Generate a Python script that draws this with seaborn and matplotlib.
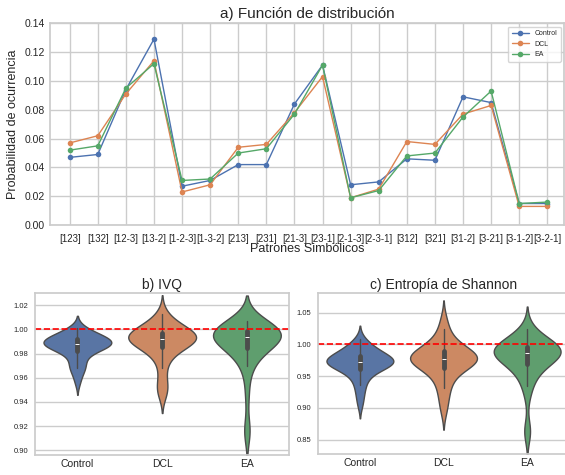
import numpy as np
import pandas as pd
import matplotlib
matplotlib.use("Agg")
import matplotlib.pyplot as plt
import seaborn as sns

# ---- data ----
patrones = ["[123]", "[132]", "[12-3]", "[13-2]", "[1-2-3]", "[1-3-2]", "[213]", "[231]",
            "[21-3]", "[23-1]", "[2-1-3]", "[2-3-1]", "[312]", "[321]", "[31-2]", "[3-21]",
            "[3-1-2]", "[3-2-1]"]
control = [0.047, 0.049, 0.094, 0.129, 0.027, 0.031, 0.042, 0.042, 0.084, 0.111,
           0.028, 0.030, 0.046, 0.045, 0.089, 0.085, 0.015, 0.015]
dcl = [0.057, 0.062, 0.091, 0.114, 0.023, 0.028, 0.054, 0.056, 0.078, 0.103,
       0.019, 0.025, 0.058, 0.056, 0.077, 0.083, 0.013, 0.013]
ea = [0.052, 0.055, 0.095, 0.112, 0.031, 0.032, 0.050, 0.053, 0.077, 0.111,
      0.019, 0.024, 0.048, 0.050, 0.075, 0.093, 0.015, 0.016]
grupos = ["Control", "DCL", "EA"]

ivq_control = [0.956, 0.962, 0.966, 0.968, 0.970, 0.972, 0.975, 0.978, 0.980, 0.982,
               0.983, 0.984, 0.984, 0.985, 0.986, 0.986, 0.987, 0.987, 0.988, 0.988,
               0.988, 0.989, 0.989, 0.990, 0.990, 0.991, 0.991, 0.992, 0.992, 0.993,
               0.993, 0.994, 0.995, 0.996, 0.997, 0.998, 1.000, 1.001]
ivq_dcl = [0.946, 0.950, 0.953, 0.960, 0.968, 0.974, 0.978, 0.981, 0.983, 0.985,
           0.986, 0.987, 0.988, 0.989, 0.990, 0.990, 0.991, 0.992, 0.992, 0.993,
           0.993, 0.994, 0.994, 0.995, 0.995, 0.996, 0.996, 0.997, 0.998, 0.999,
           1.000, 1.001, 1.002, 1.004, 1.006, 1.009, 1.013]
ivq_ea = [0.914, 0.918, 0.945, 0.962, 0.970, 0.975, 0.978, 0.981, 0.983, 0.985,
          0.987, 0.988, 0.989, 0.990, 0.991, 0.992, 0.993, 0.994, 0.994, 0.995,
          0.995, 0.996, 0.996, 0.997, 0.997, 0.998, 0.998, 0.999, 1.000, 1.000,
          1.001, 1.002, 1.003, 1.004, 1.005, 1.007]

ent_control = [0.905, 0.918, 0.928, 0.936, 0.943, 0.949, 0.953, 0.957, 0.960, 0.962,
               0.964, 0.966, 0.967, 0.968, 0.969, 0.970, 0.971, 0.972, 0.972, 0.973,
               0.974, 0.975, 0.976, 0.977, 0.978, 0.979, 0.980, 0.982, 0.984, 0.986,
               0.988, 0.990, 0.992, 0.995, 0.998, 1.002, 1.008]
ent_dcl = [0.895, 0.910, 0.922, 0.932, 0.940, 0.947, 0.953, 0.958, 0.962, 0.965,
           0.967, 0.969, 0.971, 0.973, 0.974, 0.975, 0.976, 0.977, 0.978, 0.979,
           0.980, 0.981, 0.982, 0.984, 0.986, 0.988, 0.990, 0.992, 0.995, 0.998,
           1.002, 1.008, 1.015, 1.025, 1.040]
ent_ea = [0.860, 0.866, 0.920, 0.935, 0.945, 0.952, 0.958, 0.963, 0.967, 0.970,
          0.973, 0.976, 0.978, 0.980, 0.982, 0.984, 0.985, 0.986, 0.987, 0.988,
          0.989, 0.990, 0.991, 0.992, 0.993, 0.994, 0.995, 0.996, 0.998, 1.000,
          1.002, 1.005, 1.008, 1.012, 1.018, 1.025]

# ---- style ----
sns.set_theme(style="whitegrid")
plt.rcParams["font.family"] = ["Liberation Sans", "DejaVu Sans"]
palette = sns.color_palette("deep")

fig = plt.figure(figsize=(5.65, 4.75), dpi=100)

# ---- a) line plot ----
ax1 = fig.add_axes([0.0885, 0.526, 0.910, 0.425])
df_line = pd.DataFrame({
    "patron": patrones * 3,
    "prob": control + dcl + ea,
    "grupo": ["Control"] * len(patrones) + ["DCL"] * len(patrones) + ["EA"] * len(patrones),
})
sns.lineplot(data=df_line, x="patron", y="prob", hue="grupo", hue_order=grupos,
             palette=palette[:3], marker="o", markersize=4, markeredgewidth=0,
             linewidth=1, sort=False, ax=ax1)
ax1.set_ylim(0, 0.14)
ax1.set_xlim(-0.7, 17.6)
ax1.set_yticks(np.arange(0, 0.141, 0.02))
ax1.set_yticklabels([f"{v:.2f}" for v in np.arange(0, 0.141, 0.02)])
ax1.tick_params(axis="y", labelsize=7.5, pad=3.5, length=0)
ax1.tick_params(axis="x", labelsize=7, pad=6.5, length=0)
ax1.set_xlabel("Patrones Simbólicos", fontsize=9, labelpad=-1)
ax1.set_ylabel("Probabilidad de ocurrencia", fontsize=9, labelpad=4)
ax1.set_title("a) Función de distribución", fontsize=11, pad=4)
leg = ax1.legend(title=None, fontsize=5, loc="upper right", frameon=True,
                 handlelength=2.5, borderpad=0.5, labelspacing=0.5)

box_kws = {"box_width": 3.5, "whis_width": 1.0}

# ---- b) IVQ ----
ax2 = fig.add_axes([0.062, 0.042, 0.450, 0.341])
df_ivq = pd.DataFrame({
    "grupo": ["Control"] * len(ivq_control) + ["DCL"] * len(ivq_dcl) + ["EA"] * len(ivq_ea),
    "valor": ivq_control + ivq_dcl + ivq_ea,
})
sns.violinplot(data=df_ivq, x="grupo", y="valor", hue="grupo", order=grupos,
               hue_order=grupos, palette=palette[:3], legend=False, linewidth=1,
               inner_kws=box_kws, ax=ax2)
ax2.axhline(1.0, color="red", linestyle="--", linewidth=1.2)
ax2.set_ylim(0.896, 1.030)
ax2.set_yticks([0.90, 0.92, 0.94, 0.96, 0.98, 1.00, 1.02])
ax2.set_yticklabels(["0.90", "0.92", "0.94", "0.96", "0.98", "1.00", "1.02"])
ax2.tick_params(axis="y", labelsize=5.5, pad=5, length=0)
ax2.tick_params(axis="x", labelsize=7.5, pad=3, length=0)
ax2.set_xlabel("")
ax2.set_ylabel("")
ax2.set_title("b) IVQ", fontsize=10, pad=3)

# ---- c) Entropía de Shannon ----
ax3 = fig.add_axes([0.563, 0.044, 0.444, 0.339])
df_ent = pd.DataFrame({
    "grupo": ["Control"] * len(ent_control) + ["DCL"] * len(ent_dcl) + ["EA"] * len(ent_ea),
    "valor": ent_control + ent_dcl + ent_ea,
})
sns.violinplot(data=df_ent, x="grupo", y="valor", hue="grupo", order=grupos,
               hue_order=grupos, palette=palette[:3], legend=False, linewidth=1,
               inner_kws=box_kws, ax=ax3)
ax3.axhline(1.0, color="red", linestyle="--", linewidth=1.2)
ax3.set_ylim(0.827, 1.081)
ax3.set_yticks([0.85, 0.90, 0.95, 1.00, 1.05])
ax3.set_yticklabels(["0.85", "0.90", "0.95", "1.00", "1.05"])
ax3.tick_params(axis="y", labelsize=5.5, pad=5, length=0)
ax3.tick_params(axis="x", labelsize=7.5, pad=3, length=0)
ax3.set_xlabel("")
ax3.set_ylabel("")
ax3.set_title("c) Entropía de Shannon", fontsize=10, pad=3)

fig.savefig("out.png", dpi=100)
